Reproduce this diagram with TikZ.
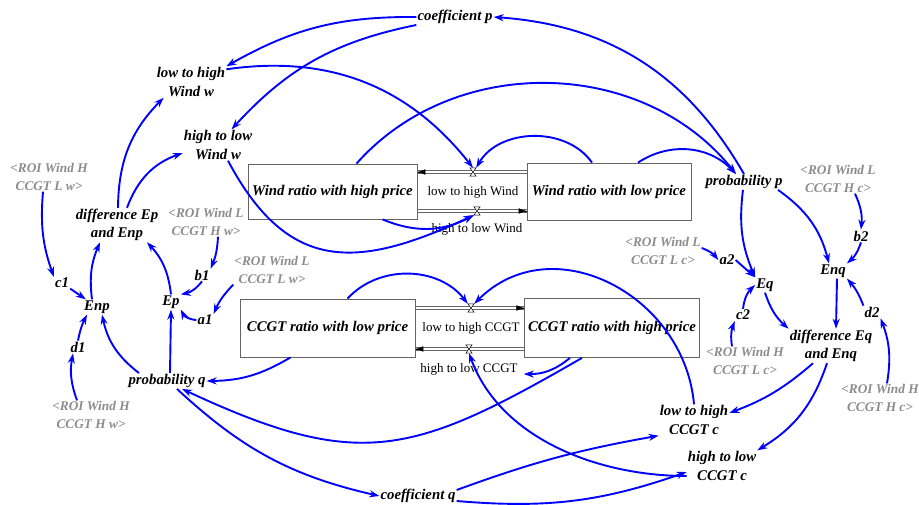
\documentclass[tikz,border=0pt]{standalone}
\usepackage{fontspec}
\setmainfont{Liberation Serif}
\usetikzlibrary{arrows.meta}

\definecolor{linkblue}{RGB}{0,0,255}
\definecolor{shadowgray}{RGB}{140,140,140}
\definecolor{boxgray}{RGB}{100,100,100}

\tikzset{
  var/.style={font=\fontsize{14.8}{18.5}\selectfont\bfseries\itshape, align=center, inner sep=1pt},
  shadow/.style={font=\fontsize{13.3}{17.5}\selectfont\bfseries\itshape, text=shadowgray, align=center, inner sep=1pt},
  stock/.style={draw=boxgray, line width=0.8pt, fill=white, font=\fontsize{14.8}{18}\selectfont\bfseries\itshape},
  flowlabel/.style={font=\fontsize{13}{15}\selectfont, inner sep=1pt},
  pipe/.style={draw=black!60, line width=0.7pt},
  pipetip/.style={-{Latex[length=8pt,width=5.5pt]}, black, line width=0.4pt},
  valve/.style={minimum width=6pt, minimum height=8pt, inner sep=0pt},
}

\begin{document}
\begin{tikzpicture}[x=1pt, y=1pt, >={Stealth[length=10pt,width=7pt]},
    link/.style={linkblue, line width=1.9pt, ->}]
  \useasboundingbox (0,0) rectangle (919,-504);

  % stocks
  \node[stock, minimum width=169pt, minimum height=55pt] (whb) at (332.5,-191.5) {Wind ratio with high price};
  \node[stock, minimum width=164pt, minimum height=57pt] (wlb) [right of=whb, node distance=276.5pt] {Wind ratio with low price};
  \node[stock, minimum width=175pt, minimum height=58pt] (cclb) at (327.5,-328) {CCGT ratio with low price};
  \node[stock, minimum width=174pt, minimum height=59pt] (cchb) [right of=cclb, node distance=284.5pt] {CCGT ratio with high price};

  % valves and flows
  \node[valve] (vw1) at (473,-172) {};
  \node[valve] (vw2) at (477,-211) {};
  \node[valve] (vc1) at (471,-308) {};
  \node[valve] (vc2) at (469,-349) {};
  \node[flowlabel] (lhwf) [below of=vw1, node distance=20pt] {low to high Wind};
  \node[flowlabel] (hlwf) [below of=vw2, node distance=18pt] {high to low Wind};
  \node[flowlabel] (lhcf) [below of=vc1, node distance=20pt] {low to high CCGT};
  \node[flowlabel] (hlcf) [below of=vc2, node distance=20pt] {high to low CCGT};

  % pipes: start / end of each flow
  \coordinate (pws1) at (wlb.west |- vw1);
  \coordinate (pw1) at (whb.east |- vw1);
  \coordinate (pws2) at (whb.east |- vw2);
  \coordinate (pw2) at (wlb.west |- vw2);
  \coordinate (pcs1) at (cclb.east |- vc1);
  \coordinate (pc1) at (cchb.west |- vc1);
  \coordinate (pcs2) at (cchb.west |- vc2);
  \coordinate (pc2) at (cclb.east |- vc2);
  \foreach \a/\b in {pws1/pw1, pws2/pw2, pcs1/pc1, pcs2/pc2} {
    \draw[pipe] ([yshift=1.3pt]\a) -- ([yshift=1.3pt]\b);
    \draw[pipe] ([yshift=-1.3pt]\a) -- ([yshift=-1.3pt]\b);
  }
  \draw[pipetip] ([xshift=0.1pt]pw1) -- (pw1);
  \draw[pipetip] ([xshift=-0.1pt]pw2) -- (pw2);
  \draw[pipetip] ([xshift=-0.1pt]pc1) -- (pc1);
  \draw[pipetip] ([xshift=0.1pt]pc2) -- (pc2);
  \foreach \v in {vw1,vw2,vc1,vc2}
    \filldraw[fill=white, line width=0.5pt] (\v.north west) -- (\v.north east)
      -- (\v.south west) -- (\v.south east) -- cycle;

  % variables
  \node[var] (cp) at (455,-17) {coefficient p};
  \node[var] (lhw) at (191,-82) {low to high\\Wind w};
  \node[var] (hlw) at (218,-145) {high to low\\Wind w};
  \node[var] (pp) at (744,-182) {probability p};
  \node[var] (pq) at (167,-381) {probability q};
  \node[var] (cq) at (418,-496) {coefficient q};
  \node[var] (dEp) at (117,-225) {difference Ep\\and Enp};
  \node[var] (Enp) at (97,-307) {Enp};
  \node[var] (Ep) at (171,-302) {Ep};
  \node[var] (a1) at (205,-320) {a1};
  \node[var] (b1) at (202,-275) {b1};
  \node[var] (c1) at (62,-283) {c1};
  \node[var] (d1) at (78,-347) {d1};
  \node[var] (Enq) at (833,-271) {Enq};
  \node[var] (Eq) at (765,-285) {Eq};
  \node[var] (a2) at (727,-260) {a2};
  \node[var] (b2) at (861,-236) {b2};
  \node[var] (c2) at (743,-315) {c2};
  \node[var] (d2) at (872,-312) {d2};
  \node[var] (dEq) at (831,-346) {difference Eq\\and Enq};
  \node[var] (lhc) at (694,-420) {low to high\\CCGT c};
  \node[var] (hlc) at (722,-466) {high to low\\CCGT c};

  % shadow variables
  \node[shadow] (sHLw) at (49,-177) {<ROI Wind H\\CCGT L w>};
  \node[shadow] (sLHw) at (206,-222) {<ROI Wind L\\CCGT H w>};
  \node[shadow] (sLLw) at (272,-270) {<ROI Wind L\\CCGT L w>};
  \node[shadow] (sHHw) at (91,-415) {<ROI Wind H\\CCGT H w>};
  \node[shadow] (sLHc) at (838,-179) {<ROI Wind L\\CCGT H c>};
  \node[shadow] (sLLc) at (663,-251) {<ROI Wind L\\CCGT L c>};
  \node[shadow] (sHLc) at (745,-361) {<ROI Wind H\\CCGT L c>};
  \node[shadow] (sHHc) at (880,-398) {<ROI Wind H\\CCGT H c>};

  % wind side links
  \path[link]
    (cp.west) edge[bend right=15] (lhw.north east)
    (cp.south west) edge[bend right=18] (hlw)
    (pp.north) edge[bend right=28] (cp.east)
    ([xshift=24pt]whb.north) edge[bend left=50] ([xshift=-8pt]pp.north)
    ([xshift=29pt]wlb.north) edge[bend left=40] ([xshift=-8pt]pp.north)
    ([yshift=-3pt]lhw.north east) edge[bend left=30] (vw1.north)
    ([xshift=-17pt]wlb.north) edge[out=125,in=60] (vw1.north east)
    ([xshift=10pt]hlw.south) edge[out=-62,in=205,looseness=1.3] (vw2.south west)
    ([xshift=50pt]whb.south) edge[bend right=25] (vw2.south west)
    ([xshift=1pt]dEp.north) edge[bend left=22] ([xshift=8pt]lhw.south west)
    ([xshift=10pt]dEp.north) edge[bend left=25] ([yshift=-8pt]hlw.west);

  % left loop
  \path[link]
    ([xshift=-6pt]sHLw.south) edge[bend right=12] (c1.north west)
    (c1) edge (Enp)
    ([xshift=-5pt]Enp.north) edge[bend left=15] ([xshift=-17pt]dEp.south)
    (Ep.north) edge[bend right=18] ([xshift=30pt]dEp.south)
    ([xshift=12pt]sLHw.south) edge[bend left=10] (b1.north east)
    (b1.south) edge[bend left=20] (Ep.north east)
    (a1.west) edge[bend left=30] (Ep.south east)
    (sLLw.south west) edge[bend right=10] (a1.north east)
    (d1.north) edge[bend left=8] ([xshift=4pt]Enp.south west)
    ([xshift=-14pt]sHHw.north) edge[bend left=15] ([xshift=-5pt]d1.south)
    ([xshift=-28pt]pq.north) edge[bend left=20] ([xshift=5pt]Enp.south)
    ([xshift=3pt]pq.north) edge (Ep.south)
    ([xshift=-37pt]cclb.south) edge[bend left=15] (pq.east)
    ([xshift=10pt]pq.south) edge[bend right=15] (cq.west)
    ([xshift=-30pt]cchb.south) edge[out=210,in=-25,looseness=1.25] ([xshift=15pt]pq.south);

  % ccgt side links
  \path[link]
    ([yshift=6pt]cq.east) edge[bend left=5] (lhc.south west)
    ([yshift=-5pt]cq.east) edge[bend right=12] ([yshift=-6pt]hlc.west)
    ([xshift=-42pt]cchb.south) edge[bend left=20] ([xshift=5pt,yshift=-5pt]hlcf.east)
    ([xshift=20pt]cclb.north) edge[bend left=50] (vc1.north west);
  \draw[link] (lhc.north) .. controls +(95:110) and +(45:110) .. (vc1.north east);
  \draw[link] ([yshift=-10pt]hlc.west) .. controls +(180:90) and +(-70:90) .. (vc2.south);

  % right loop
  \path[link]
    ([xshift=-1pt]pp.south) edge[bend right=15] (Eq.north west)
    ([xshift=34pt]pp.south) edge[bend left=20] ([xshift=-4pt]Enq.north)
    ([xshift=17pt]sLHc.south) edge[bend left=15] (b2.north)
    (b2.south) edge[bend left=15] (Enq.north east)
    ([yshift=3pt]sLLc.east) edge[bend left=15] (a2.west)
    (a2.east) edge (Eq.north west)
    ([xshift=-13pt]sHLc.north) edge[bend left=15] (c2.south west)
    (c2.north) edge[bend left=20] (Eq.west)
    (Eq.south) edge[bend right=15] (dEq.north west)
    ([xshift=4pt]Enq.south) edge ([xshift=5pt]dEq.north)
    (d2.north west) edge[bend right=10] (Enq.south east)
    ([xshift=7pt]sHHc.north) edge[bend right=15] (d2.south east)
    ([xshift=-18pt]dEq.south) edge[bend left=10] ([yshift=7pt]lhc.east)
    ([xshift=-4pt]dEq.south) edge[bend left=20] (hlc.north east);
\end{tikzpicture}
\end{document}
